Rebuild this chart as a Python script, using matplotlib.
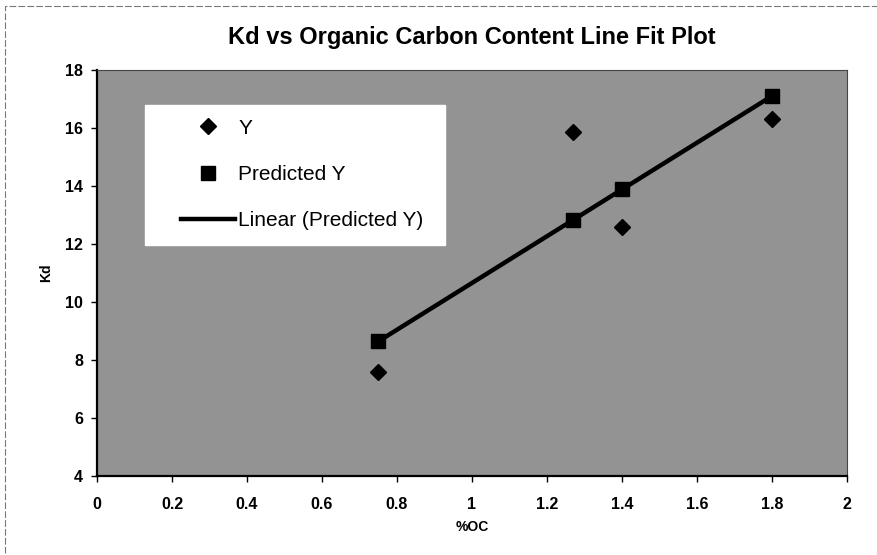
import matplotlib
matplotlib.use("Agg")
import matplotlib.pyplot as plt
from matplotlib.patches import Rectangle

# Data
oc = [0.75, 1.27, 1.40, 1.80]
kd_observed = [7.6, 15.85, 12.6, 16.3]
kd_predicted = [8.64, 12.83, 13.88, 17.1]

x_ticks = [0, 0.2, 0.4, 0.6, 0.8, 1, 1.2, 1.4, 1.6, 1.8, 2]
x_tick_labels = ['0', '0.2', '0.4', '0.6', '0.8', '1', '1.2', '1.4', '1.6', '1.8', '2']
y_ticks = [4, 6, 8, 10, 12, 14, 16, 18]

plt.rcParams['font.family'] = ['Liberation Sans', 'DejaVu Sans']

fig = plt.figure(figsize=(8.78, 5.55), dpi=100)
ax = fig.add_axes([0.1105, 0.1423, 0.854, 0.7316])
ax.set_facecolor('#939393')

ax.plot(oc, kd_observed, linestyle='none', marker='D', markersize=8,
        color='black', label='Y', zorder=3)
ax.plot(oc, kd_predicted, linestyle='none', marker='s', markersize=10,
        color='black', label='Predicted Y', zorder=3)
# the fit line drawn through the predicted points
ax.plot(oc, kd_predicted, linestyle='-', linewidth=3.2, color='black',
        label='Linear (Predicted Y)', zorder=2)

ax.set_xlim(0, 2)
ax.set_ylim(4, 18)
ax.set_xticks(x_ticks)
ax.set_xticklabels(x_tick_labels)
ax.set_yticks(y_ticks)
ax.tick_params(axis='both', direction='out', length=4, width=1, labelsize=11.5, pad=6)
for lbl in ax.get_xticklabels() + ax.get_yticklabels():
    lbl.set_fontweight('bold')
ax.tick_params(axis='x', pad=11)

for side in ['left', 'bottom']:
    ax.spines[side].set_linewidth(1.6)
    ax.spines[side].set_color('black')
for side in ['top', 'right']:
    ax.spines[side].set_linewidth(0.8)
    ax.spines[side].set_color('#444444')

ax.set_xlabel('%OC', fontsize=10, fontweight='bold', labelpad=6)
ax.set_ylabel('Kd', fontsize=10, fontweight='bold', labelpad=9)

# title centred over the plot area, as Excel does
fig.text(0.5376, 0.932, 'Kd vs Organic Carbon Content Line Fit Plot', fontsize=17,
         fontweight='bold', ha='center', va='center')

# white legend panel (Excel style, wider padding on the left)
ax.add_patch(Rectangle((0.064, 0.569), 0.40, 0.345, transform=ax.transAxes,
                       facecolor='white', edgecolor='white', zorder=4))
leg = ax.legend(loc='upper left', bbox_to_anchor=(0.112, 0.88), fontsize=15,
                frameon=False, handlelength=2.6, handletextpad=0.15,
                labelspacing=1.3, borderpad=0, borderaxespad=0)
leg.set_zorder(5)

# scanned page border
fig.patches.append(Rectangle((0.006, -0.01), 1.0, 1.0, transform=fig.transFigure,
                             fill=False, edgecolor='#777777', linewidth=0.8,
                             linestyle=(0, (6, 2))))

fig.savefig('out.png', dpi=100)
